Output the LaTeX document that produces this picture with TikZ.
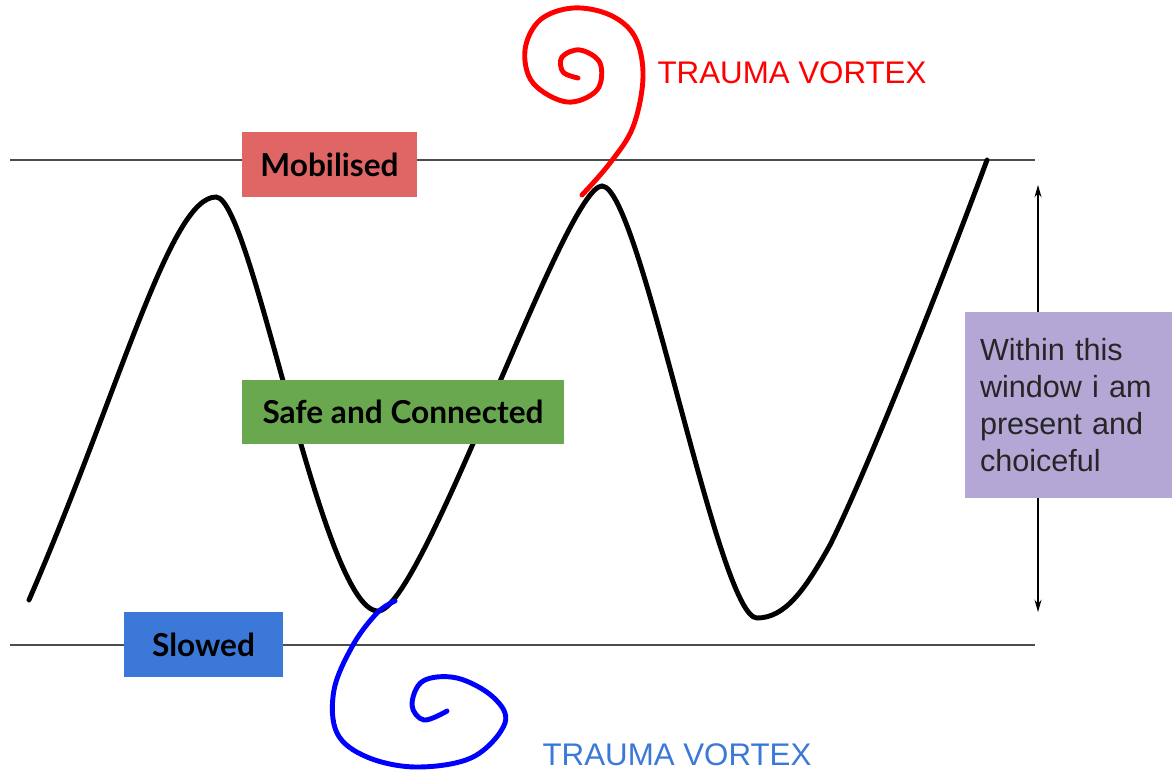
\documentclass[tikz,border=0pt]{standalone}
\usepackage{fontspec}
\setmainfont{Liberation Sans}
\newfontfamily\labelfont{Lato}
\usepackage{xcolor}
\usepackage{tikz}
\usetikzlibrary{arrows.meta}
\definecolor{mobred}{HTML}{E06666}
\definecolor{safegreen}{HTML}{6AA84F}
\definecolor{slowblue}{HTML}{3C78D8}
\definecolor{windowpurple}{HTML}{B4A7D6}
\definecolor{vortexblue}{HTML}{0000FF}
\definecolor{vortexred}{HTML}{FF0000}

\begin{document}
\begin{tikzpicture}[x=0.02cm, y=-0.02cm,
    zone/.style={rectangle, inner sep=0pt, text=black,
      font=\labelfont\bfseries\fontsize{18}{21}\selectfont},
    limit/.style={draw=black!70, line width=0.8pt},
    vortex/.style={line width=2.8pt, line cap=round, line join=round},
    vtext/.style={font=\fontsize{17.8}{20}\selectfont}]
        \useasboundingbox (0,0) rectangle (1172,771);

        % Limites de la fenetre
        \coordinate (topL) at (10,160);
        \coordinate (topR) at (1035,160);
        \coordinate (botL) at (10,645);
        \coordinate (botR) at (1035,645);
        \draw[limit] (topL) -- (topR);
        \draw[limit] (botL) -- (botR);

        % Fleche de la fenetre
        \coordinate (winTop) at (1038,185);
        \coordinate (winBot) at (1038,612);
        \draw[{Stealth[length=7pt,width=4pt]}-{Stealth[length=7pt,width=4pt]}, line width=0.6pt] (winTop) -- (winBot);

        % Courbe
        \draw[line width=2.8pt, line cap=round]
          (29,600) .. controls (120,390) and (170,197) .. (216,197)
                   .. controls (252,197) and (322,611) .. (378,611)
                   .. controls (422,611) and (565,186) .. (602,186)
                   .. controls (640,186) and (718,618) .. (757,618)
                   .. controls (785,618) and (805,590) .. (830,545)
                   .. controls (870,465) and (950,260) .. (987,160);

        % Vortex rouge
        \draw[vortex, vortexred] plot[smooth, tension=0.6] coordinates {
          (582,195) (610,163) (633,127) (643,77) (635,37) (610,15) (573,8)
          (540,20) (525,50) (533,83) (567,102) (597,90) (600,63) (580,50)
          (562,57) (563,72) (578,78)};
        \node[vtext, text=vortexred] (redVortex) at (792,73) {TRAUMA VORTEX};

        % Vortex bleu
        \draw[vortex, vortexblue] plot[smooth, tension=0.6] coordinates {
          (395,601) (377,613) (353,645) (334,690) (337,733) (367,757) (417,767)
          (473,757) (505,723) (493,697) (457,678) (423,681) (412,705)
          (424,720) (447,711)};
        \node[vtext, text=slowblue] (blueVortex) at (677,755) {TRAUMA VORTEX};

        % Zones
        \node[zone, fill=mobred, minimum width=3.5cm, minimum height=1.3cm] (mob) at (329.5,164.5) {Mobilised};
        \node[zone, fill=safegreen, minimum width=6.44cm, minimum height=1.28cm] (safe) at (403,412) {Safe and Connected};
        \node[zone, fill=slowblue, minimum width=3.18cm, minimum height=1.3cm] (slow) at (203.5,644.5) {Slowed};

        % Fenetre
        \node[fill=windowpurple, minimum width=4.14cm, minimum height=3.72cm, inner xsep=0.3cm,
              text width=3.54cm, align=left, text=black!85,
              font=\fontsize{17.4}{20.9}\selectfont] (window) at (1068.5,405)
              {Within this\\window i am\\present and\\choiceful};
    \end{tikzpicture}
\end{document}
